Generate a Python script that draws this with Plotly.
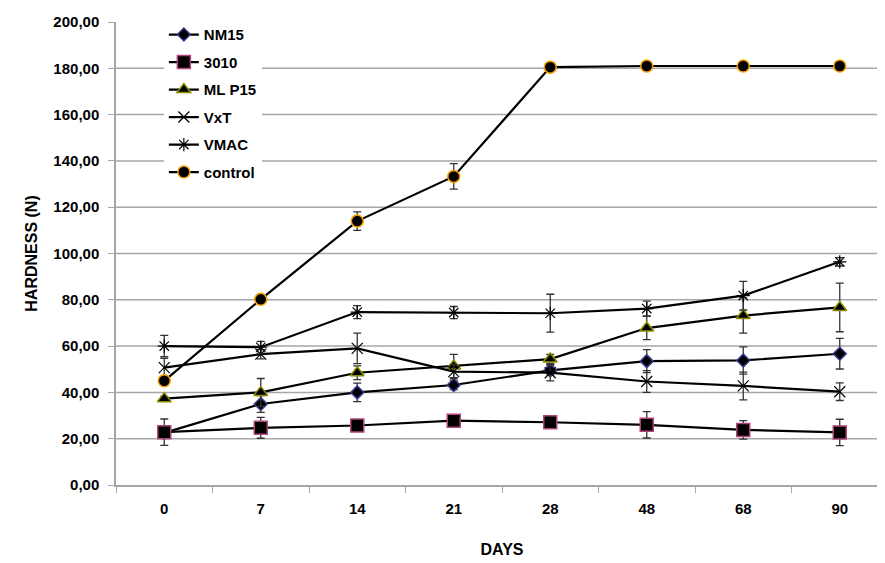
import plotly.graph_objects as go

days = ["0", "7", "14", "21", "28", "48", "68", "90"]

nm15 = [22.5, 35.0, 40.0, 43.2, 49.5, 53.5, 53.8, 56.7]
nm15_err = [1.0, 3.6, 4.0, 2.0, 2.0, 5.0, 5.9, 6.6]

s3010 = [22.8, 24.7, 25.7, 27.8, 27.1, 26.0, 23.8, 22.7]
s3010_err = [5.7, 4.5, 1.0, 1.0, 1.0, 5.7, 4.0, 5.7]

mlp15 = [37.3, 40.0, 48.5, 51.4, 54.4, 67.8, 73.2, 76.7]
mlp15_err = [1.0, 6.0, 3.0, 5.0, 2.0, 5.0, 7.6, 10.5]

vxt = [50.7, 56.5, 59.0, 49.0, 48.5, 44.7, 42.8, 40.3]
vxt_err = [4.0, 2.0, 6.6, 3.0, 3.5, 4.7, 6.0, 3.8]

vmac = [60.0, 59.5, 74.7, 74.5, 74.2, 76.2, 81.8, 96.4]
vmac_err = [4.6, 2.5, 2.8, 2.6, 8.2, 3.2, 6.2, 1.8]

control = [45.0, 80.2, 114.0, 133.3, 180.5, 181.0, 181.0, 181.0]
control_err = [1.5, 1.0, 4.0, 5.5, 1.0, 1.0, 1.0, 1.0]

gridlines = [20, 40, 60, 80, 100, 120, 140, 160, 180]

series = [
    ("NM15", nm15, nm15_err, "diamond", 10, "#3a3a8c"),
    ("3010", s3010, s3010_err, "square", 13, "#b0457a"),
    ("ML P15", mlp15, mlp15_err, "triangle-up", 12, "#8c8c00"),
    ("VxT", vxt, vxt_err, "x-thin-open", 11, "#000000"),
    ("VMAC", vmac, vmac_err, "asterisk-open", 11, "#000000"),
    ("control", control, control_err, "circle", 12, "#f5a000"),
]

FONT = "Liberation Sans Narrow, Liberation Sans, Arial"

fig = go.Figure()
for g in gridlines:
    fig.add_hline(y=g, line=dict(color="#a6a6a6", width=1.5), layer="below")

for i, (name, vals, err, sym, size, edge) in enumerate(series):
    open_sym = sym.endswith("open")
    fig.add_trace(go.Scatter(
        x=days, y=vals, name=name, mode="lines+markers",
        legendgroup=name,
        line=dict(color="black", width=2.2),
        marker=dict(symbol=sym, size=size,
                    color="black",
                    line=dict(color=edge if not open_sym else "black",
                              width=1.5 if not open_sym else 1.2)),
        error_y=dict(type="data", array=err, visible=True, color="#333333", thickness=1.3, width=4),
    ))

fig.update_layout(
    width=885, height=563,
    margin=dict(l=108, r=5, t=8, b=86),
    paper_bgcolor="white", plot_bgcolor="white",
    separators=",.",
    font=dict(family=FONT, size=14, color="black"),
    showlegend=True,
    legend=dict(
        x=0.062, y=1.008, xanchor="left", yanchor="top",
        bgcolor="white", borderwidth=0,
        font=dict(size=15, family=FONT, color="black", weight="bold"),
        traceorder="grouped", tracegroupgap=5,
        itemwidth=30, entrywidth=120,
    ),
    xaxis=dict(
        type="category", range=[-0.5, 7.5],
        showgrid=False, showline=True, linecolor="#a6a6a6", linewidth=1.5,
        ticks="outside", tickson="boundaries", ticklen=6, tickcolor="#a6a6a6", tickwidth=1,
        ticklabelstandoff=9,
        tickfont=dict(size=15, family=FONT, weight="bold"),
        title=dict(text="<b>DAYS</b>", font=dict(size=16), standoff=28),
        zeroline=False,
    ),
    yaxis=dict(
        range=[0, 200], dtick=20, tickformat=".2f",
        showgrid=False,
        showline=True, linecolor="#a6a6a6", linewidth=1.5,
        ticks="outside", ticklen=6, tickcolor="#a6a6a6",
        ticklabelstandoff=6,
        tickfont=dict(size=15, family=FONT, weight="bold"),
        title=dict(text="<b>HARDNESS (N)</b>", font=dict(size=16), standoff=12),
        zeroline=False,
    ),
)

fig.write_html("out.html")
